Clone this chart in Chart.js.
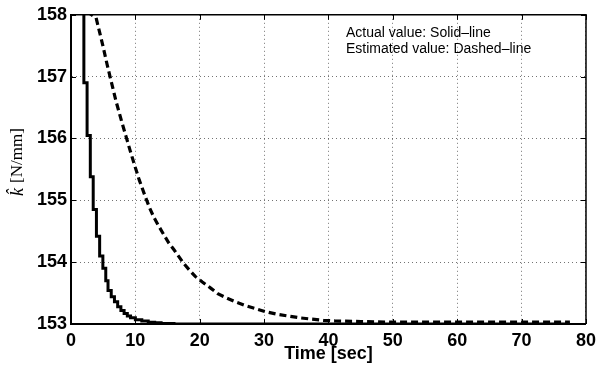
<!DOCTYPE html>
<html>
<head>
<meta charset="utf-8">
<script src="https://cdn.jsdelivr.net/npm/chart.js@4"></script>
<style>
  html, body { margin: 0; padding: 0; background: #fff; }
  canvas { display: block; }
</style>
</head>
<body>
<canvas id="chart" width="602" height="369"></canvas>
<script>
// actual stiffness (solid, stepped) - value holds from each time on
const actualTime = [0, 2.0, 2.5, 3.0, 3.45, 3.95, 4.45, 4.95, 5.4, 5.75, 6.25, 6.75, 7.25, 7.75, 8.25, 8.75, 9.25, 10, 11, 12, 13, 14, 16, 20, 77.5];
const actualValue = [160, 156.9, 156.05, 155.38, 154.85, 154.42, 154.1, 153.9, 153.7, 153.54, 153.44, 153.36, 153.28, 153.22, 153.17, 153.13, 153.1, 153.07, 153.05, 153.03, 153.02, 153.01, 153.0, 153.0, 153.0];

// estimated stiffness (dashed)
const estTime = [2.5, 3.9, 4.3, 5.0, 5.6, 6.3, 7.0, 7.8, 8.5, 9.2, 9.9, 10.6, 11.4, 12.2, 12.9, 13.7, 14.5, 15.2, 16, 17.5, 18.5, 19.3, 20.4, 21.7, 22.8, 24.2, 25.5, 27, 28.6, 30.2, 31.9, 33.7, 35.5, 37.3, 39.2, 41, 45, 50, 60, 77.5];
const estValue = [158.05, 157.95, 157.78, 157.48, 157.2, 156.9, 156.6, 156.3, 156.05, 155.8, 155.56, 155.33, 155.1, 154.88, 154.72, 154.57, 154.43, 154.31, 154.2, 153.98, 153.86, 153.77, 153.68, 153.58, 153.49, 153.42, 153.36, 153.3, 153.25, 153.2, 153.16, 153.13, 153.1, 153.08, 153.06, 153.05, 153.04, 153.03, 153.03, 153.03];

const xTicks = [0, 10, 20, 30, 40, 50, 60, 70, 80];
const yTicks = [153, 154, 155, 156, 157, 158];
const noteLines = ['Actual value: Solid\u2013line', 'Estimated value: Dashed\u2013line'];

const tickFont = { family: 'Liberation Sans', size: 18, weight: 'bold' };

// frame on top/right plus matlab style inward ticks
const framePlugin = {
    id: 'frame',
    afterDraw(chart) {
        const {ctx, chartArea: a, scales} = chart;
        ctx.save();
        ctx.strokeStyle = '#000';
        ctx.lineWidth = 1.5;
        ctx.beginPath();
        ctx.moveTo(a.left, a.top);
        ctx.lineTo(a.right, a.top);
        ctx.lineTo(a.right, a.bottom);
        ctx.stroke();
        ctx.lineWidth = 1;
        ctx.beginPath();
        xTicks.forEach(v => {
            const x = Math.round(scales.x.getPixelForValue(v)) + 0.5;
            ctx.moveTo(x, a.bottom); ctx.lineTo(x, a.bottom - 5);
            ctx.moveTo(x, a.top); ctx.lineTo(x, a.top + 5);
        });
        yTicks.forEach(v => {
            const y = Math.round(scales.y.getPixelForValue(v)) + 0.5;
            ctx.moveTo(a.left, y); ctx.lineTo(a.left + 5, y);
            ctx.moveTo(a.right, y); ctx.lineTo(a.right - 5, y);
        });
        ctx.stroke();

        // note text
        ctx.fillStyle = '#000';
        ctx.font = '14px "Liberation Sans"';
        ctx.textAlign = 'left';
        ctx.textBaseline = 'alphabetic';
        ctx.fillText(noteLines[0], 346, 37);
        ctx.fillText(noteLines[1], 346, 53);

        // y axis title: italic k-hat then [N/mm]
        ctx.translate(18, 162);
        ctx.rotate(-Math.PI / 2);
        ctx.textBaseline = 'middle';
        const kFont = 'italic 18px "Liberation Serif"';
        const unitFont = '17px "Liberation Serif"';
        ctx.font = kFont;
        const kw = ctx.measureText('k').width;
        ctx.font = unitFont;
        const unit = '[N/mm]';
        const uw = ctx.measureText(unit).width;
        const start = -(kw + 5 + uw) / 2;
        ctx.font = kFont;
        ctx.fillText('k\u0302', start, 0);
        ctx.font = unitFont;
        ctx.fillText(unit, start + kw + 5, 0);
        ctx.restore();
    }
};

new Chart(document.getElementById('chart'), {
    type: 'line',
    data: {
        datasets: [
            {
                label: 'Actual',
                data: actualTime.map((t, i) => ({x: t, y: actualValue[i]})),
                borderColor: '#000',
                borderWidth: 3,
                pointRadius: 0,
                stepped: true,
                fill: false
            },
            {
                label: 'Estimated',
                data: estTime.map((t, i) => ({x: t, y: estValue[i]})),
                borderColor: '#000',
                borderWidth: 3.2,
                borderDash: [7, 4],
                pointRadius: 0,
                tension: 0,
                fill: false
            }
        ]
    },
    options: {
        responsive: false,
        animation: false,
        devicePixelRatio: 1,
        layout: { padding: { left: 0, top: 11, right: 11, bottom: 0 } },
        plugins: { legend: { display: false }, tooltip: { enabled: false } },
        scales: {
            x: {
                type: 'linear',
                min: 0, max: 80,
                afterBuildTicks: s => { s.ticks = xTicks.map(v => ({value: v})); },
                afterFit: s => { s.height = 45; },
                grid: { color: 'rgba(0,0,0,0.55)', lineWidth: 1, drawTicks: false },
                border: { color: '#000', width: 2, dash: [1, 3] },
                ticks: { color: '#000', font: tickFont, padding: 6, maxRotation: 0 },
                title: {
                    display: true, text: 'Time [sec]', color: '#000',
                    font: { family: 'Liberation Sans', size: 18, weight: 'bold' },
                    padding: { top: 0, bottom: 4 }
                }
            },
            y: {
                min: 153, max: 158,
                afterBuildTicks: s => { s.ticks = yTicks.map(v => ({value: v})); },
                afterFit: s => { s.width = 71; },
                grid: { color: 'rgba(0,0,0,0.55)', lineWidth: 1, drawTicks: false },
                border: { color: '#000', width: 2, dash: [1, 3] },
                ticks: { color: '#000', font: tickFont, padding: 4 }
            }
        }
    },
    plugins: [framePlugin]
});
</script>
</body>
</html>
